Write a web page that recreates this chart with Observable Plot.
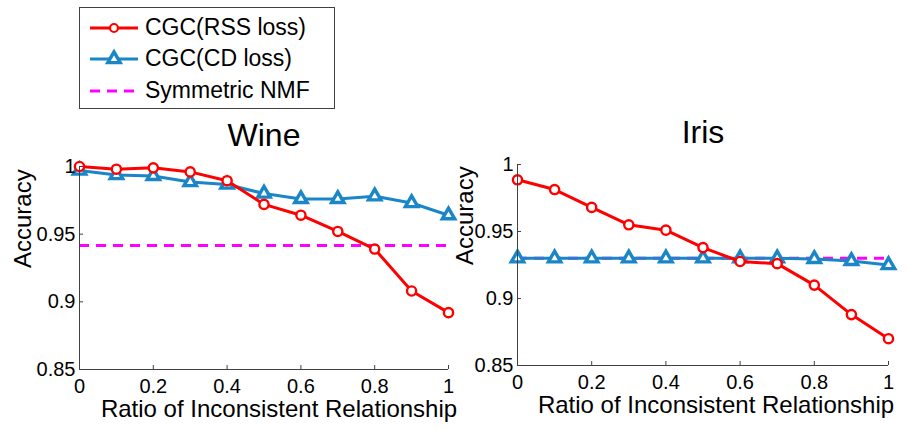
<!DOCTYPE html>
<html>
<head>
<meta charset="utf-8">
<script src="https://cdn.jsdelivr.net/npm/d3@7"></script>
<script src="https://cdn.jsdelivr.net/npm/@observablehq/plot@0.6"></script>
<style>
  html, body { margin: 0; padding: 0; background: #fff; }
  #wrap { position: relative; width: 908px; height: 430px; overflow: hidden; font-family: "Liberation Sans", Arial, sans-serif; }
  .panel { position: absolute; top: 0; }
  #legend { position: absolute; left: 79px; top: 7px; width: 254px; height: 100px; border: 1px solid #404040; background: #fff; }
  .row { position: absolute; left: 0; height: 31px; display: flex; align-items: center; font-size: 23px; color: #000; white-space: nowrap; }
  .row svg { margin-left: 10px; margin-right: 7px; }
</style>
</head>
<body>
<div id="wrap">
  <div id="legend"></div>
</div>
<script>
// ---- data ----
const ratios = [0, 0.1, 0.2, 0.3, 0.4, 0.5, 0.6, 0.7, 0.8, 0.9, 1];
const seriesNames = ["CGC(RSS loss)", "CGC(CD loss)", "Symmetric NMF"];
const panelTitles = ["Wine", "Iris"];
const wineRSS = [1.0, 0.998, 0.999, 0.996, 0.9895, 0.972, 0.964, 0.952, 0.939, 0.908, 0.892];
const wineCD  = [0.997, 0.9937, 0.993, 0.9885, 0.9867, 0.980, 0.976, 0.976, 0.978, 0.973, 0.964];
const wineNMF = 0.9416;
const irisRSS = [0.9886, 0.9813, 0.968, 0.955, 0.951, 0.938, 0.9276, 0.926, 0.910, 0.888, 0.870];
const irisCD  = [0.930, 0.930, 0.930, 0.930, 0.930, 0.930, 0.930, 0.930, 0.9295, 0.928, 0.925];
const irisNMF = 0.930;
const xTicks = [0, 0.2, 0.4, 0.6, 0.8, 1];
const yTicks = [0.85, 0.9, 0.95, 1];
const xLabel = "Ratio of Inconsistent Relationship";
const yLabel = "Accuracy";

// ---- styles ----
const RED = "#ff0000", BLUE = "#1a86c8", MAGENTA = "#ff00ff", AXIS = "#404040";

function panel(title, rss, cd, nmf, m, lab) {
  const W = 454, H = 430;
  const fw = W - m.left - m.right, fh = H - m.top - m.bottom;
  const rssData = ratios.map((r, i) => ({x: r, y: rss[i]}));
  const cdData = ratios.map((r, i) => ({x: r, y: cd[i]}));
  return Plot.plot({
    width: W, height: H,
    marginLeft: m.left, marginRight: m.right, marginTop: m.top, marginBottom: m.bottom,
    style: {fontFamily: "Liberation Sans, Arial, sans-serif", fontSize: "20px", color: "#000", background: "transparent", overflow: "visible"},
    x: {domain: [0, 1]},
    y: {domain: [0.85, 1]},
    marks: [
      Plot.ruleY([nmf], {x1: 0, x2: 1, stroke: MAGENTA, strokeWidth: 3, strokeDasharray: "10,7"}),
      Plot.line(cdData, {x: "x", y: "y", stroke: BLUE, strokeWidth: 3}),
      Plot.dot(cdData, {x: "x", y: "y", symbol: "triangle", r: 4.6, stroke: BLUE, strokeWidth: 3.4, fill: "white"}),
      Plot.line(rssData, {x: "x", y: "y", stroke: RED, strokeWidth: 3}),
      Plot.dot(rssData, {x: "x", y: "y", r: 4.6, stroke: RED, strokeWidth: 2.4, fill: "white"}),
      Plot.ruleX([0], {stroke: AXIS, strokeWidth: 1}),
      Plot.ruleY([0.85], {stroke: AXIS, strokeWidth: 1}),
      Plot.tickX(xTicks, {x: d => d, stroke: AXIS, insetTop: fh - 4}),
      Plot.tickY(yTicks, {y: d => d, stroke: AXIS, insetRight: fw - 4}),
      Plot.axisX(xTicks, {tickSize: 0, tickPadding: 9, tickFormat: d => String(d), fontSize: 20, label: null}),
      Plot.axisY(yTicks, {tickSize: 0, tickPadding: 4, tickFormat: d => String(d), fontSize: 20, label: null}),
      Plot.text([title], {text: d => d, frameAnchor: "top", dy: lab.titleDy, fontSize: 32, fill: "#000"}),
      Plot.text([xLabel], {text: d => d, frameAnchor: "bottom", dy: 47, dx: lab.xdx, fontSize: 24, fill: "#000"}),
      Plot.text([yLabel], {text: d => d, frameAnchor: "left", dx: lab.ydx, rotate: -90, fontSize: 24, fill: "#000"})
    ]
  });
}

const wrap = document.getElementById("wrap");
const left = panel(panelTitles[0], wineRSS, wineCD, wineNMF, {left: 79, right: 6, top: 166, bottom: 61}, {titleDy: -43, xdx: 15, ydx: -56});
left.classList.add("panel"); left.style.left = "0px"; left.style.position = "absolute"; left.style.top = "0px";
const right = panel(panelTitles[1], irisRSS, irisCD, irisNMF, {left: 63, right: 20, top: 164, bottom: 65}, {titleDy: -44, xdx: 13, ydx: -52});
right.classList.add("panel"); right.style.left = "454px"; right.style.position = "absolute"; right.style.top = "0px";
wrap.insertBefore(right, wrap.firstChild);
wrap.insertBefore(left, wrap.firstChild);

// ---- legend ----
const swatches = [
  `<line x1="0" y1="10" x2="48" y2="10" stroke="${RED}" stroke-width="3"/><circle cx="24" cy="10" r="4" fill="white" stroke="${RED}" stroke-width="2.2"/>`,
  `<line x1="0" y1="10" x2="48" y2="10" stroke="${BLUE}" stroke-width="3"/><path d="${d3.symbol(d3.symbolTriangle, Math.PI*4.6*4.6)()}" transform="translate(24,10)" fill="white" stroke="${BLUE}" stroke-width="3.4"/>`,
  `<line x1="0" y1="10" x2="48" y2="10" stroke="${MAGENTA}" stroke-width="3" stroke-dasharray="10,7"/>`
];
const rowTops = [4, 35, 67];
const legend = document.getElementById("legend");
seriesNames.forEach((name, i) => {
  const row = document.createElement("div");
  row.className = "row";
  row.style.top = rowTops[i] + "px";
  row.innerHTML = `<svg width="48" height="20" style="overflow:visible">${swatches[i]}</svg><span>${name}</span>`;
  legend.appendChild(row);
});
</script>
</body>
</html>
